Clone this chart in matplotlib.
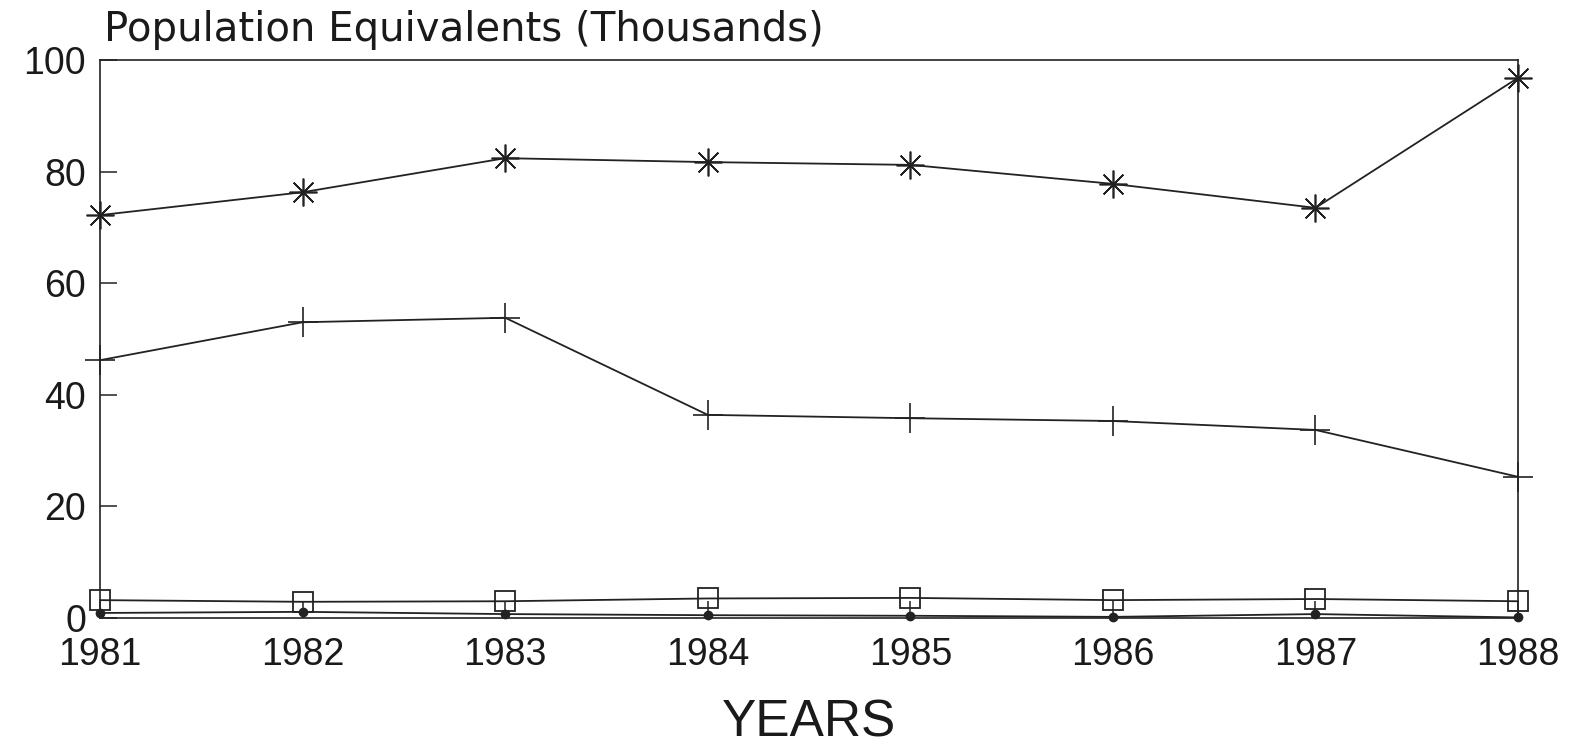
import matplotlib
matplotlib.use("Agg")
import matplotlib.pyplot as plt

# values (thousands of population equivalents)
years = [1981, 1982, 1983, 1984, 1985, 1986, 1987, 1988]
series_star = [72.2, 76.3, 82.4, 81.7, 81.2, 77.8, 73.5, 96.8]
series_plus = [46.2, 53.0, 53.8, 36.4, 35.8, 35.3, 33.7, 25.3]
series_square = [3.2, 2.9, 3.0, 3.5, 3.6, 3.2, 3.4, 3.0]
series_dot = [0.9, 1.1, 0.7, 0.5, 0.4, 0.2, 0.7, 0.1]

y_ticks = [0, 20, 40, 60, 80, 100]

plt.rcParams["font.family"] = ["Liberation Sans", "DejaVu Sans"]

fig = plt.figure(figsize=(15.71, 7.46), dpi=100)
ax = fig.add_axes([0.0637, 0.1716, 0.9026, 0.748])

lw = 1.3
ink = "#222222"
ax.plot(years, series_star, color=ink, lw=lw, marker=(8, 2, 0), ms=20, mew=1.2, clip_on=False)
ax.plot(years, series_plus, color=ink, lw=lw, marker="+", ms=22, mew=1.2, clip_on=False)
ax.plot(years, series_square, color=ink, lw=lw, marker="s", ms=15, mew=1.3,
        mfc="none", clip_on=False)
ax.plot(years, series_dot, color=ink, lw=lw, marker="o", ms=6, clip_on=False)

ax.set_xlim(years[0], years[-1])
ax.set_ylim(0, 100)
ax.set_xticks(years)
ax.set_yticks(y_ticks)
ax.tick_params(direction="in", length=12, width=1.1, colors=ink,
               labelsize=27, labelcolor="#1a1a1a", pad=10)
ax.tick_params(axis="x", pad=14)
for s in ax.spines.values():
    s.set_linewidth(1.2)
    s.set_color(ink)

fig.text(0.066, 1 - 41 / 746, "Population Equivalents (Thousands)",
         fontsize=29, color="#1a1a1a", ha="left", va="baseline", family="DejaVu Sans")
ax.set_xlabel("YEARS", fontsize=37, color="#1a1a1a", labelpad=18)

fig.savefig("out.png", dpi=100, facecolor="white")
